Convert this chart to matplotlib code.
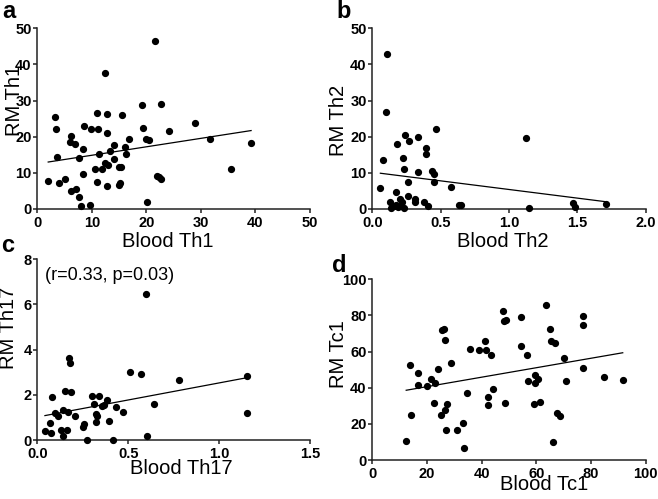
import matplotlib.pyplot as plt
import numpy as np

plt.rcParams['font.family'] = ['Liberation Sans', 'DejaVu Sans']

# panel a: Blood Th1 vs RM Th1
th1_blood = [2.0, 3.2, 3.4, 3.7, 4.0, 5.1, 6.0, 6.2, 6.2, 7.0, 7.1, 7.6, 7.6, 8.0, 8.3,
             8.3, 8.6, 9.7, 9.8, 10.6, 10.9, 11.0, 11.2, 11.4, 11.9, 12.4, 12.5, 12.7,
             12.7, 12.8, 13.0, 13.4, 14.0, 14.0, 14.9, 15.0, 15.1, 15.3, 15.5, 16.1,
             16.3, 16.9, 19.2, 19.4, 20.0, 20.5, 20.1, 21.6, 21.9, 22.3, 22.7, 22.6,
             24.1, 28.9, 31.6, 35.5, 39.2]
th1_rm = [7.7, 25.4, 22.1, 14.3, 7.3, 8.3, 18.6, 20.1, 5.1, 18.0, 5.6, 14.0, 3.4, 0.9, 16.7,
          9.8, 23.0, 1.0, 22.0, 11.1, 26.5, 7.6, 22.0, 15.1, 11.1, 12.7, 37.6, 21.1,
          26.2, 6.3, 12.3, 16.1, 17.6, 13.7, 11.5, 6.7, 7.2, 11.6, 25.9, 17.1,
          15.3, 19.3, 28.8, 22.3, 19.3, 19.2, 2.0, 46.4, 9.2, 8.8, 8.3, 29.1,
          21.7, 23.8, 19.3, 11.1, 18.2]

# panel b: Blood Th2 vs RM Th2
th2_blood = [0.059, 0.078, 0.098, 0.105, 0.127, 0.137, 0.156, 0.171, 0.173, 0.178, 0.186,
             0.205, 0.21, 0.22, 0.227, 0.232, 0.234, 0.239, 0.259, 0.264, 0.268, 0.312,
             0.312, 0.337, 0.337, 0.376, 0.393, 0.393, 0.405, 0.439, 0.449, 0.454, 0.466,
             0.576, 0.632, 0.649, 1.122, 1.146, 1.471, 1.483, 1.71]
th2_rm = [5.7, 13.6, 26.8, 43.0, 1.8, 0.2, 0.8, 1.1, 4.8, 18.0, 0.5,
          2.8, 0.9, 2.0, 14.0, 11.2, 0.3, 20.5, 7.5, 3.6, 18.7, 2.8,
          1.9, 19.8, 10.1, 2.0, 16.8, 15.3, 0.7, 10.6, 9.7, 7.6, 22.2,
          6.2, 1.2, 1.2, 19.6, 0.2, 1.6, 0.6, 1.5]

# panel c: Blood Th17 vs RM Th17
th17_blood = [0.042, 0.072, 0.077, 0.079, 0.097, 0.116, 0.13, 0.141, 0.143, 0.152, 0.161,
              0.171, 0.174, 0.18, 0.183, 0.209, 0.253, 0.257, 0.271, 0.299, 0.314, 0.323,
              0.33, 0.323, 0.341, 0.356, 0.367, 0.385, 0.392, 0.416, 0.431, 0.469, 0.512,
              0.568, 0.598, 0.603, 0.642, 0.781, 1.155, 1.155]
th17_rm = [0.38, 0.77, 0.32, 1.89, 1.21, 1.08, 0.44, 0.18, 1.31, 2.17, 0.44,
           1.23, 3.63, 3.39, 2.13, 1.08, 0.56, 0.72, 0.0, 1.93, 1.59, 1.15,
           1.06, 0.81, 1.96, 1.52, 1.56, 1.79, 0.83, 0.0, 1.48, 1.24, 3.03,
           2.92, 6.48, 0.19, 1.61, 2.67, 2.85, 1.2]

# panel d: Blood Tc1 vs RM Tc1
tc1_blood = [12.4, 13.9, 14.1, 16.6, 16.8, 20.1, 21.5, 22.6, 23.0, 24.0, 25.0, 25.6, 26.3,
             26.5, 26.6, 26.9, 27.3, 28.9, 31.1, 33.3, 33.4, 34.8, 35.9, 38.9, 41.1, 41.7,
             42.3, 42.3, 43.4, 44.0, 47.8, 48.2, 49.0, 48.7, 54.4, 54.3, 56.6, 57.0, 59.3,
             59.4, 59.6, 60.6, 61.2, 63.5, 65.0, 65.2, 66.9, 66.1, 67.6, 68.7, 70.2, 70.7,
             77.1, 77.1, 77.1, 84.6, 91.6]
tc1_rm = [10.5, 52.6, 24.7, 41.7, 48.3, 41.1, 45.0, 31.7, 42.8, 50.4, 24.7, 71.8, 72.7,
          27.7, 66.4, 16.8, 31.0, 53.5, 16.4, 20.5, 6.8, 37.3, 61.4, 61.1, 65.9, 60.7,
          35.1, 30.4, 58.1, 39.3, 82.5, 76.9, 77.7, 31.7, 79.2, 63.3, 58.3, 43.5, 31.2,
          47.2, 42.8, 45.0, 31.9, 85.8, 72.5, 65.9, 64.9, 10.0, 26.2, 24.5, 56.6, 43.5,
          79.7, 74.9, 50.7, 45.8, 44.3]

# regression lines (slope, intercept)
fit_a = (0.234, 12.53)
fit_b = (-4.78, 10.18)
fit_c = (1.51, 1.017)
fit_d = (0.262, 35.35)

W, H = 658, 499
fig = plt.figure(figsize=(W / 100, H / 100), dpi=100)


def rect(left, top, right, bottom):
    return [left / W, 1 - bottom / H, (right - left) / W, (bottom - top) / H]


panels = [
    dict(pos=rect(37.3, 28.3, 310, 209), x=th1_blood, y=th1_rm, fit=fit_a,
         xlim=(0, 50), ylim=(0, 50), xt=[0, 10, 20, 30, 40, 50], yt=[0, 10, 20, 30, 40, 50],
         xfmt='{:.0f}', yfmt='{:.0f}', xl='Blood Th1', yl='RM Th1',
         xlc=(0.48, -0.18), ylc=(-0.085, 0.6), letter='a', lpos=(2, 18)),
    dict(pos=rect(372.3, 28.3, 645.7, 209), x=th2_blood, y=th2_rm, fit=fit_b,
         xlim=(0, 2), ylim=(0, 50), xt=[0, 0.5, 1.0, 1.5, 2.0], yt=[0, 10, 20, 30, 40, 50],
         xfmt='{:.1f}', yfmt='{:.0f}', xl='Blood Th2', yl='RM Th2',
         xlc=(0.478, -0.18), ylc=(-0.125, 0.49), letter='b', lpos=(336, 18)),
    dict(pos=rect(37.3, 259.3, 310, 440), x=th17_blood, y=th17_rm, fit=fit_c,
         xlim=(0, 1.5), ylim=(0, 8), xt=[0, 0.5, 1.0, 1.5], yt=[0, 2, 4, 6, 8],
         xfmt='{:.1f}', yfmt='{:.0f}', xl='Blood Th17', yl='RM Th17',
         xlc=(0.527, -0.16), ylc=(-0.107, 0.62), letter='c', lpos=(1, 252)),
    dict(pos=rect(372.3, 279.3, 645.7, 460), x=tc1_blood, y=tc1_rm, fit=fit_d,
         xlim=(0, 100), ylim=(0, 100), xt=[0, 20, 40, 60, 80, 100], yt=[0, 20, 40, 60, 80, 100],
         xfmt='{:.0f}', yfmt='{:.0f}', xl='Blood Tc1', yl='RM Tc1',
         xlc=(0.628, -0.135), ylc=(-0.125, 0.587), letter='d', lpos=(332, 272)),
]

for p in panels:
    ax = fig.add_axes(p['pos'])
    ax.plot(p['x'], p['y'], 'o', color='black', markersize=4.2, clip_on=False, zorder=3)
    xs = np.array([min(p['x']), max(p['x'])])
    ax.plot(xs, p['fit'][0] * xs + p['fit'][1], color='black', linewidth=0.9)
    ax.set_xlim(p['xlim'])
    ax.set_ylim(p['ylim'])
    ax.set_xticks(p['xt'])
    ax.set_yticks(p['yt'])
    ax.set_xticklabels([p['xfmt'].format(v) for v in p['xt']], fontweight='bold', fontsize=10.5)
    ax.set_yticklabels([p['yfmt'].format(v) for v in p['yt']], fontweight='bold', fontsize=10.5)
    for s in ['top', 'right']:
        ax.spines[s].set_visible(False)
    for s in ['left', 'bottom']:
        ax.spines[s].set_linewidth(1.1)
        ax.spines[s].set_color('#222222')
    ax.tick_params(axis='both', direction='out', length=3, width=1.1, color='#222222')
    ax.tick_params(axis='x', pad=2)
    ax.tick_params(axis='y', pad=1)
    ax.set_xlabel(p['xl'], fontsize=14.5)
    ax.set_ylabel(p['yl'], fontsize=14.5)
    ax.xaxis.set_label_coords(*p['xlc'])
    ax.yaxis.set_label_coords(*p['ylc'])
    ax.xaxis.label.set_va('center')
    ax.yaxis.label.set_va('center')
    fig.text(p['lpos'][0] / W, 1 - p['lpos'][1] / H, p['letter'],
             fontsize=17, fontweight='bold', va='baseline', ha='left')
    if p['letter'] == 'c':
        ax.text(0.042, 7.3, '(r=0.33, p=0.03)', fontsize=13, va='center', ha='left')

fig.savefig('out.png', dpi=100)
